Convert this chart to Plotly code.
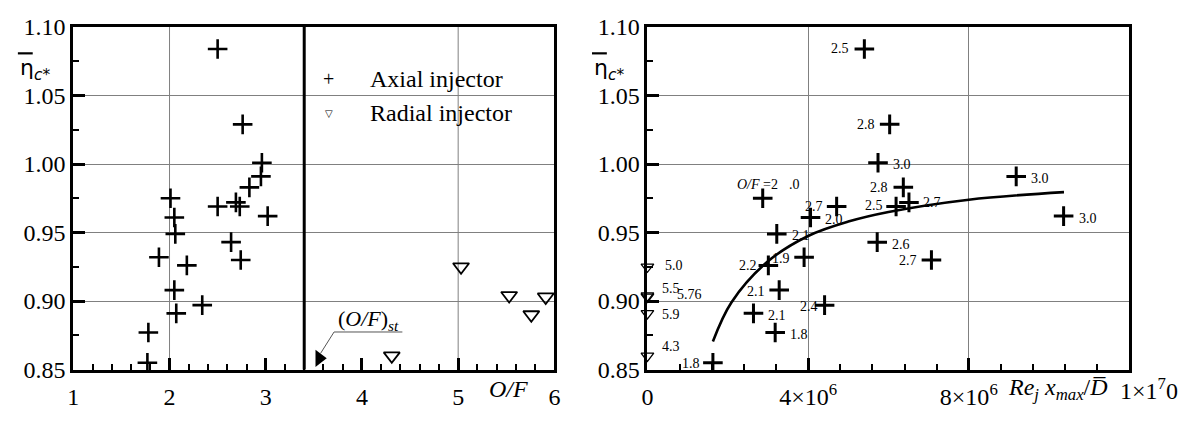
import plotly.graph_objects as go

W, H = 1183, 421
SERIF = "Liberation Serif, Times New Roman, serif"

# ---- Left panel: efficiency vs O/F ----
axial_of = [2.50, 2.76, 2.96, 2.95, 2.83, 2.01, 2.50, 2.69, 2.73, 2.05, 3.02,
            2.06, 2.64, 1.89, 2.74, 2.18, 2.05, 2.34, 2.07, 1.78, 1.77]
axial_eta = [1.084, 1.029, 1.001, 0.991, 0.983, 0.975, 0.969, 0.972, 0.969, 0.961, 0.962,
             0.949, 0.943, 0.932, 0.930, 0.926, 0.908, 0.897, 0.891, 0.877, 0.855]

radial_of = [5.03, 5.53, 5.91, 5.76, 4.31]
radial_eta = [0.925, 0.904, 0.903, 0.890, 0.860]

of_st_line = 3.4          # thick separator line
of_st_mark = 3.556        # (O/F)st pointer
of_grid = [2, 5]

# ---- Right panel: efficiency vs Re_j x_max / D ----
axial_re = [5.40e6, 6.03e6, 5.74e6, 6.37e6, 6.19e6, 6.51e6, 4.71e6, 4.06e6, 2.87e6, 3.22e6,
            5.72e6, 3.90e6, 7.07e6, 3.01e6, 3.28e6, 4.41e6, 2.64e6, 3.18e6, 1.63e6, 9.18e6, 10.36e6]
axial_eta_r = [1.084, 1.029, 1.001, 0.983, 0.969, 0.972, 0.969, 0.961, 0.975, 0.949,
               0.943, 0.932, 0.930, 0.926, 0.908, 0.897, 0.891, 0.877, 0.855, 0.991, 0.962]
axial_lbl_r = ["2.5", "2.8", "3.0", "2.8", "2.5", "2.7", "2.7", "2.0", "<i>O/F</i> =2", "2.1",
               "2.6", "1.9", "2.7", "2.2", "2.1", "2.4", "2.1", "1.8", "1.8", "3.0", "3.0"]
# label placement: (side, dx, dy)
axial_lbl_pos = [("l", -6, 0), ("l", -6, 0), ("r", 6, -2), ("l", -6, 0), ("l", -4, 1), ("r", 5, 0),
                 ("l", -5, 0), ("r", 5, -2), ("c", -5, 14), ("r", 6, -2),
                 ("r", 6, -2), ("l", -5, -1), ("l", -5, -1), ("l", -2, 0), ("l", -5, -1), ("l", 2, -1),
                 ("r", 6, -2), ("r", 6, -2), ("l", -4, -1), ("r", 6, -2), ("r", 6, -2)]

radial_re = [0, 0, 0, 0, 0]
radial_eta_r = [0.925, 0.904, 0.903, 0.891, 0.860]
radial_lbl_r = ["5.0", "5.5", "5.76", "5.9", "4.3"]
radial_lbl_pos = [("r", 9, 1), ("r", 6, 7), ("r", 21, 2), ("r", 6, -1), ("r", 6, 9)]

fit_re = [1.63e6, 2.09e6, 3.0e6, 4.0e6, 5.0e6, 6.0e6, 8.0e6, 10.37e6]
fit_eta = [0.8705, 0.899, 0.929, 0.9475, 0.958, 0.965, 0.974, 0.9795]

re_ticks = [0, 4e6, 8e6]
re_ticktext = ["0", "4×10<sup>6</sup>", "8×10<sup>6</sup>"]
of_ticks = [1, 2, 3, 4, 5, 6]


def px(x):
    return x / W


def py(y):
    return 1 - y / H


fig = go.Figure()

cross = dict(symbol="cross-thin", size=14, color="black", line=dict(width=2.6, color="black"))

fig.add_trace(go.Scatter(x=axial_of, y=axial_eta, mode="markers", marker=cross,
                         xaxis="x", yaxis="y", showlegend=False, cliponaxis=False))
fig.add_trace(go.Scatter(x=radial_of, y=radial_eta, mode="markers",
                         marker=dict(symbol="triangle-down-open", size=14, color="black",
                                     line=dict(width=1.8, color="black")),
                         xaxis="x", yaxis="y", showlegend=False, cliponaxis=False))
fig.add_trace(go.Scatter(x=[of_st_mark], y=[0.8582], mode="markers",
                         marker=dict(symbol="triangle-right", size=15, color="black"),
                         xaxis="x", yaxis="y", showlegend=False, cliponaxis=False))

fig.add_trace(go.Scatter(x=fit_re, y=fit_eta, mode="lines",
                         line=dict(color="black", width=2.6, shape="spline"),
                         xaxis="x2", yaxis="y2", showlegend=False))
fig.add_trace(go.Scatter(x=axial_re, y=axial_eta_r, mode="markers",
                         marker=dict(symbol="cross-thin", size=14, color="black",
                                     line=dict(width=3, color="black")),
                         xaxis="x2", yaxis="y2", showlegend=False, cliponaxis=False))
fig.add_trace(go.Scatter(x=radial_re, y=radial_eta_r, mode="markers",
                         marker=dict(symbol="triangle-down-open", size=11, color="black",
                                     line=dict(width=1.3, color="black")),
                         xaxis="x2", yaxis="y2", showlegend=False, cliponaxis=False))

ann = []
lbl_font = dict(family=SERIF, size=14, color="black")
for xs, ys, ts, ps in [(axial_re, axial_eta_r, axial_lbl_r, axial_lbl_pos),
                       (radial_re, radial_eta_r, radial_lbl_r, radial_lbl_pos)]:
    for xv, yv, t, (side, dx, dy) in zip(xs, ys, ts, ps):
        anchor = {"l": "right", "r": "left", "c": "center"}[side]
        sh = {"l": -7, "r": 7, "c": 0}[side]
        ann.append(dict(x=xv, y=yv, xref="x2", yref="y2", text=t, showarrow=False,
                        xanchor=anchor, yanchor="middle", xshift=sh + dx, yshift=dy,
                        font=lbl_font))
ann.append(dict(x=axial_re[8], y=axial_eta_r[8], xref="x2", yref="y2", text=".0",
                showarrow=False, xanchor="center", yanchor="middle", xshift=32, yshift=14,
                font=lbl_font))

big = dict(family=SERIF, size=24, color="black")
# legend
ann.append(dict(x=px(326), y=py(70), xref="paper", yref="paper", text="+", showarrow=False,
                xanchor="center", yanchor="middle", font=dict(family=SERIF, size=20, color="black")))
ann.append(dict(x=px(326), y=py(107), xref="paper", yref="paper", text="▽", showarrow=False,
                xanchor="center", yanchor="middle", font=dict(family="DejaVu Sans", size=10, color="black")))
ann.append(dict(x=px(366), y=py(70), xref="paper", yref="paper", text="Axial injector",
                showarrow=False, xanchor="left", yanchor="middle", font=big))
ann.append(dict(x=px(366), y=py(107), xref="paper", yref="paper", text="Radial injector",
                showarrow=False, xanchor="left", yanchor="middle", font=big))
# (O/F)st label
ann.append(dict(x=px(333), y=py(327), xref="paper", yref="paper",
                text="(<i>O/F</i>)<sub><i>st</i></sub>", showarrow=False,
                xanchor="left", yanchor="middle", font=dict(family=SERIF, size=22, color="black")))
# axis titles
ann.append(dict(x=px(508), y=py(401), xref="paper", yref="paper", text="<i>O/F</i>",
                showarrow=False, xanchor="center", yanchor="middle", font=big))
ann.append(dict(x=px(1010), y=py(401), xref="paper", yref="paper",
                text="<i>Re</i><sub><i>j</i></sub> <i>x</i><sub><i>max</i></sub>/<i>D̅</i>",
                showarrow=False, xanchor="left", yanchor="middle", font=big))
ann.append(dict(x=px(1123), y=py(401), xref="paper", yref="paper",
                text="1×1<sup>7</sup>0", showarrow=False, xanchor="left", yanchor="middle", font=big))
for x0 in (12, 592):
    ann.append(dict(x=px(x0), y=py(60), xref="paper", yref="paper",
                    text="η<sub><i>c*</i></sub>", showarrow=False, xanchor="left",
                    yanchor="middle", font=dict(family="DejaVu Sans", size=22, color="black")))

shapes = []
for g in of_grid:
    shapes.append(dict(type="line", xref="x", yref="paper", x0=g, x1=g, y0=py(380), y1=py(15),
                       line=dict(color="#808080", width=1), layer="below"))
shapes.append(dict(type="line", xref="x", yref="paper", x0=of_st_line, x1=of_st_line,
                   y0=py(380), y1=py(15), line=dict(color="black", width=3)))
shapes.append(dict(type="path", xref="x", yref="y",
                   path=f"M {of_st_mark + 0.012},0.8616 L 3.71,0.8774 L 4.42,0.8774",
                   line=dict(color="#555555", width=1)))
for x0 in (12, 592):
    shapes.append(dict(type="line", xref="paper", yref="paper", x0=px(x0), x1=px(x0 + 15),
                       y0=py(43), y1=py(43), line=dict(color="black", width=2.2)))

axis_common = dict(showline=True, linewidth=3, linecolor="black", mirror=True,
                   ticks="inside", ticklen=12, tickwidth=2.5, tickcolor="black",
                   tickfont=big, zeroline=False)
minor_common = dict(ticks="inside", ticklen=6, tickwidth=2, tickcolor="black", showgrid=False)

yaxis_common = dict(axis_common, range=[0.85, 1.10], tick0=0.85, dtick=0.05, tickformat=".2f",
                    showgrid=True, gridcolor="#808080", gridwidth=1,
                    minor=dict(minor_common, dtick=0.025))

fig.update_layout(
    width=W, height=H, margin=dict(l=0, r=0, t=0, b=0),
    paper_bgcolor="white", plot_bgcolor="white",
    font=dict(family=SERIF, color="black"),
    xaxis=dict(axis_common, domain=[px(68), px(554)], range=[1, 6], tickvals=of_ticks,
               showgrid=False, minor=dict(minor_common, dtick=0.2), anchor="y",
               ticklabelstandoff=4),
    yaxis=dict(yaxis_common, domain=[py(380), py(15)], anchor="x"),
    xaxis2=dict(axis_common, domain=[px(648), px(1135)], range=[0, 1.2e7], tickvals=re_ticks,
                ticktext=re_ticktext, showgrid=True, gridcolor="#808080", gridwidth=1,
                minor=dict(minor_common, dtick=8e5, tick0=0), anchor="y2",
                ticklabelstandoff=4),
    yaxis2=dict(yaxis_common, domain=[py(380), py(15)], anchor="x2"),
    annotations=ann, shapes=shapes,
)

fig.write_html("out.html")
